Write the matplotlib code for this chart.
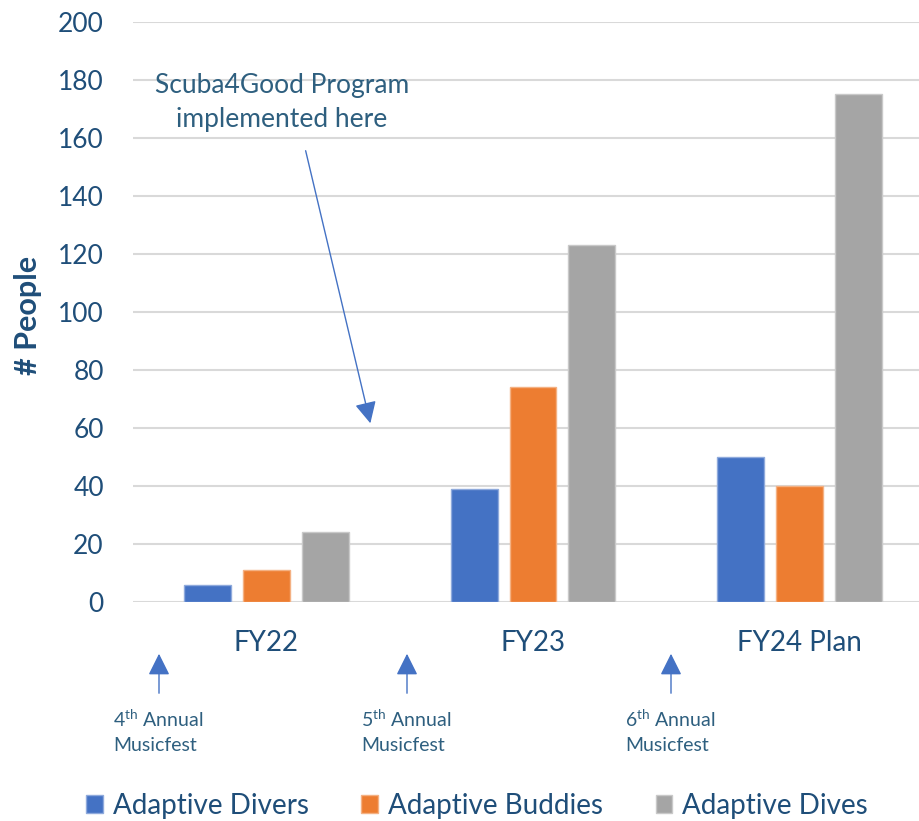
import matplotlib
matplotlib.use("Agg")
import matplotlib.pyplot as plt
import numpy as np

categories = ["FY22", "FY23", "FY24 Plan"]
series_names = ["Adaptive Divers", "Adaptive Buddies", "Adaptive Dives"]
divers = [6, 39, 50]
buddies = [11, 74, 40]
dives = [24, 123, 175]
yticks = [0, 20, 40, 60, 80, 100, 120, 140, 160, 180, 200]
colors = ["#4472C4", "#ED7D31", "#A5A5A5"]
edge_colors = ["#8FAADC", "#F4B183", "#C9C9C9"]

plt.rcParams['font.family'] = ['Lato', 'DejaVu Sans']
plt.rcParams['mathtext.fontset'] = 'custom'
plt.rcParams['mathtext.rm'] = 'Lato'

W, H = 920, 821
fig = plt.figure(figsize=(W / 100, H / 100), dpi=100)
ax = fig.add_axes([133 / W, 1 - 602 / H, 800 / W, 580 / H])

x = np.arange(len(categories))
bw = 0.176
step = 0.221
for i, (vals, c, ec, name) in enumerate(zip([divers, buddies, dives], colors, edge_colors, series_names)):
    ax.bar(x + (i - 1) * step, vals, width=bw, color=c, edgecolor=ec, linewidth=1, label=name, zorder=3)

ax.set_xlim(-0.5, 2.5)
ax.set_ylim(0, 200)
ax.set_yticks(yticks)
ax.yaxis.grid(True, color="#D9D9D9", linewidth=1.5, zorder=0)
ax.set_axisbelow(True)
for s in ax.spines.values():
    s.set_visible(False)
ax.set_xticks(x)
ax.set_xticklabels(categories)
ax.tick_params(axis='both', length=0, labelcolor="#1F4E79")
ax.tick_params(axis='y', labelsize=19, pad=21)
ax.tick_params(axis='x', labelsize=20, pad=20)

fig.text(28 / W, 1 - 315 / H, "# People", rotation=90, ha='center', va='center',
         fontsize=22, fontweight='bold', color="#1F4E79")

# Annotation
fig.text(282 / W, 1 - 102 / H, "Scuba4Good Program\nimplemented here", ha='center', va='center',
         fontsize=19, color="#2E5F7F", linespacing=1.45)
fig.add_artist(matplotlib.patches.FancyArrowPatch(
    (305 / W, 1 - 148 / H), (371 / W, 1 - 426 / H), transform=fig.transFigure,
    arrowstyle='-|>,head_length=6,head_width=3', mutation_scale=2.2, color="#4472C4", linewidth=1))

# Musicfest markers
mf_x = [159, 407, 671]
mf_labels = ["4$^{\\mathregular{th}}$ Annual\nMusicfest",
             "5$^{\\mathregular{th}}$ Annual\nMusicfest",
             "6$^{\\mathregular{th}}$ Annual\nMusicfest"]
for xx, lab in zip(mf_x, mf_labels):
    fig.add_artist(matplotlib.patches.FancyArrowPatch(
        (xx / W, 1 - 696 / H), (xx / W, 1 - 651 / H), transform=fig.transFigure,
        arrowstyle='-|>,head_length=6,head_width=3', mutation_scale=2.2,
        color="#4472C4", linewidth=1))
    fig.text((xx - 46) / W, 1 - 731 / H, lab, ha='left', va='center', fontsize=14,
             color="#2E5F7F", linespacing=1.55)

leg = fig.legend(loc='center', bbox_to_anchor=(477 / W, 1 - 806 / H), ncol=3, frameon=False,
                 fontsize=20, handlelength=0.6, handleheight=0.6, handletextpad=0.35,
                 columnspacing=1.9)
for t in leg.get_texts():
    t.set_color("#1F4E79")

fig.savefig("out.png", dpi=100)
